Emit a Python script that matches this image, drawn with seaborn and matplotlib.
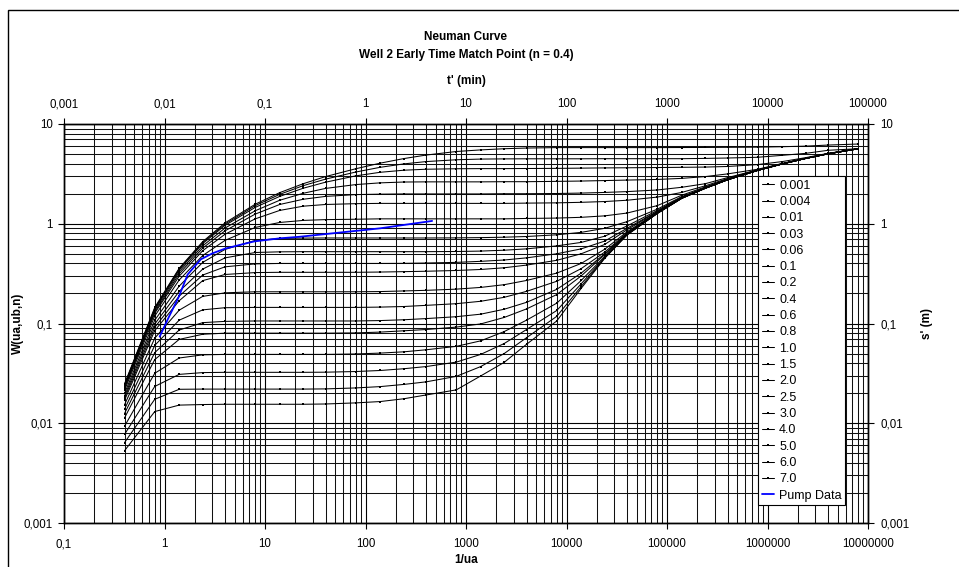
import numpy as np
import pandas as pd
import matplotlib
matplotlib.use("Agg")
import matplotlib.pyplot as plt
from matplotlib.lines import Line2D
from matplotlib.patches import Rectangle
from matplotlib.ticker import FixedLocator, FixedFormatter, LogLocator, NullFormatter
import seaborn as sns

sns.set_theme(style="white")
plt.rcParams["font.family"] = ["Liberation Sans", "DejaVu Sans"]

# ---------------- data ----------------
inv_ua = [0.4, 0.8, 1.4, 2.4, 4, 8, 14, 24, 40, 80, 140, 240, 400, 800, 1400, 2400,
          4000, 8000, 1.4e4, 2.4e4, 4e4, 8e4, 1.4e5, 2.4e5, 4e5, 8e5, 1.4e6, 2.4e6, 4e6, 8e6]

beta_labels = ["0.001", "0.004", "0.01", "0.03", "0.06", "0.1", "0.2", "0.4", "0.6", "0.8",
               "1.0", "1.5", "2.0", "2.5", "3.0", "4.0", "5.0", "6.0", "7.0"]

W_b0001 = [0.0248, 0.145, 0.358, 0.662, 1.02, 1.57, 2.05, 2.52, 2.97, 3.56, 4.05, 4.50, 4.88, 5.30, 5.50,
           5.65, 5.74, 5.80, 5.80, 5.80, 5.80, 5.80, 5.81, 5.82, 5.84, 5.86, 5.92, 6.00, 6.15, 6.30]
W_b0004 = [0.0243, 0.142, 0.352, 0.648, 0.992, 1.52, 1.97, 2.41, 2.80, 3.30, 3.68, 3.98, 4.20, 4.38, 4.45,
           4.47, 4.48, 4.48, 4.48, 4.49, 4.49, 4.49, 4.49, 4.52, 4.56, 4.64, 4.85, 5.08, 5.45, 5.65]
W_b001 = [0.0241, 0.140, 0.345, 0.633, 0.963, 1.46, 1.88, 2.27, 2.61, 3.02, 3.28, 3.44, 3.52, 3.56, 3.57,
          3.57, 3.58, 3.59, 3.61, 3.63, 3.64, 3.66, 3.68, 3.70, 3.75, 3.92, 4.20, 4.60, 5.08, 5.65]
W_b003 = [0.0235, 0.136, 0.331, 0.601, 0.905, 1.35, 1.72, 2.02, 2.26, 2.47, 2.57, 2.62, 2.63, 2.63, 2.63,
          2.64, 2.64, 2.66, 2.68, 2.71, 2.74, 2.78, 2.85, 2.97, 3.16, 3.52, 4.02, 4.54, 5.04, 5.65]
W_b006 = [0.0230, 0.131, 0.315, 0.570, 0.849, 1.25, 1.56, 1.76, 1.88, 1.96, 1.98, 1.99, 1.99, 1.99, 1.99,
          2.00, 2.00, 2.01, 2.03, 2.06, 2.10, 2.18, 2.32, 2.52, 2.90, 3.47, 4.00, 4.53, 5.04, 5.65]
W_b01 = [0.0224, 0.127, 0.298, 0.537, 0.784, 1.12, 1.36, 1.50, 1.56, 1.59, 1.60, 1.60, 1.60, 1.60, 1.60,
         1.60, 1.61, 1.62, 1.64, 1.67, 1.72, 1.85, 2.06, 2.40, 2.84, 3.46, 3.99, 4.53, 5.04, 5.65]
W_b02 = [0.0214, 0.119, 0.273, 0.480, 0.681, 0.918, 1.03, 1.08, 1.10, 1.11, 1.12, 1.12, 1.12, 1.12, 1.12,
         1.12, 1.13, 1.14, 1.16, 1.20, 1.28, 1.52, 1.93, 2.34, 2.80, 3.45, 3.99, 4.52, 5.03, 5.65]
W_b04 = [0.0199, 0.108, 0.237, 0.410, 0.553, 0.680, 0.712, 0.718, 0.720, 0.720, 0.720, 0.720, 0.720, 0.722,
         0.726, 0.733, 0.745, 0.775, 0.82, 0.90, 1.05, 1.40, 1.87, 2.30, 2.78, 3.44, 3.98, 4.52, 5.03, 5.65]
W_b06 = [0.0188, 0.0988, 0.210, 0.351, 0.455, 0.515, 0.523, 0.525, 0.525, 0.525, 0.525, 0.525, 0.525, 0.527,
         0.532, 0.543, 0.560, 0.600, 0.65, 0.75, 0.95, 1.36, 1.84, 2.29, 2.77, 3.44, 3.98, 4.52, 5.03, 5.65]
W_b08 = [0.0179, 0.0915, 0.188, 0.306, 0.370, 0.396, 0.400, 0.400, 0.400, 0.400, 0.400, 0.401, 0.404, 0.410,
         0.420, 0.433, 0.455, 0.50, 0.56, 0.67, 0.90, 1.33, 1.83, 2.28, 2.77, 3.43, 3.98, 4.52, 5.03, 5.65]
W_b10 = [0.0170, 0.0849, 0.169, 0.269, 0.310, 0.324, 0.326, 0.326, 0.326, 0.326, 0.328, 0.331, 0.334, 0.340,
         0.348, 0.362, 0.385, 0.43, 0.50, 0.62, 0.87, 1.32, 1.82, 2.28, 2.77, 3.43, 3.98, 4.52, 5.03, 5.65]
W_b15 = [0.0153, 0.0713, 0.136, 0.187, 0.203, 0.208, 0.208, 0.208, 0.208, 0.208, 0.209, 0.212, 0.215, 0.221,
         0.230, 0.245, 0.270, 0.32, 0.40, 0.555, 0.83, 1.30, 1.81, 2.27, 2.76, 3.43, 3.98, 4.52, 5.03, 5.65]
W_b20 = [0.0138, 0.0603, 0.108, 0.137, 0.144, 0.145, 0.145, 0.145, 0.145, 0.145, 0.146, 0.148, 0.152, 0.158,
         0.167, 0.183, 0.210, 0.265, 0.355, 0.52, 0.81, 1.29, 1.81, 2.27, 2.76, 3.43, 3.98, 4.52, 5.03, 5.65]
W_b25 = [0.0125, 0.0511, 0.086, 0.102, 0.105, 0.106, 0.106, 0.106, 0.106, 0.106, 0.107, 0.109, 0.112, 0.117,
         0.124, 0.139, 0.163, 0.22, 0.32, 0.50, 0.80, 1.28, 1.80, 2.27, 2.76, 3.43, 3.98, 4.52, 5.03, 5.65]
W_b30 = [0.0113, 0.0435, 0.0693, 0.078, 0.080, 0.080, 0.080, 0.080, 0.080, 0.0805, 0.082, 0.0845, 0.087, 0.092,
         0.099, 0.115, 0.140, 0.195, 0.30, 0.49, 0.79, 1.28, 1.80, 2.27, 2.76, 3.43, 3.98, 4.52, 5.03, 5.65]
W_b40 = [0.00933, 0.0317, 0.0451, 0.0485, 0.049, 0.049, 0.049, 0.049, 0.049, 0.0495, 0.0505, 0.052, 0.0545,
         0.059, 0.067, 0.083, 0.108, 0.16, 0.27, 0.47, 0.78, 1.27, 1.80, 2.27, 2.76, 3.43, 3.98, 4.52, 5.03, 5.65]
W_b50 = [0.00772, 0.0234, 0.0309, 0.0322, 0.0324, 0.0324, 0.0324, 0.0324, 0.0325, 0.033, 0.0338, 0.0352, 0.037,
         0.041, 0.049, 0.063, 0.087, 0.135, 0.25, 0.46, 0.78, 1.27, 1.80, 2.27, 2.76, 3.43, 3.98, 4.52, 5.03, 5.65]
W_b60 = [0.00639, 0.0174, 0.0219, 0.0220, 0.0220, 0.0220, 0.0220, 0.0220, 0.0221, 0.0226, 0.0233, 0.0245, 0.026,
         0.0295, 0.037, 0.050, 0.072, 0.118, 0.235, 0.455, 0.775, 1.27, 1.80, 2.27, 2.76, 3.43, 3.98, 4.52, 5.03, 5.65]
W_b70 = [0.0053, 0.0131, 0.0152, 0.0154, 0.0155, 0.0155, 0.0155, 0.0155, 0.0156, 0.0160, 0.0165, 0.0176, 0.0192,
         0.0216, 0.0298, 0.0408, 0.0618, 0.106, 0.225, 0.45, 0.77, 1.27, 1.80, 2.27, 2.76, 3.43, 3.98, 4.52, 5.03, 5.65]

curves = [W_b0001, W_b0004, W_b001, W_b003, W_b006, W_b01, W_b02, W_b04, W_b06, W_b08,
          W_b10, W_b15, W_b20, W_b25, W_b30, W_b40, W_b50, W_b60, W_b70]

# pump data (secondary axes: t' in minutes, s' in metres)
pump_t = [0.00895, 0.011, 0.0139, 0.017, 0.020, 0.023, 0.030, 0.040, 0.055, 0.078, 0.14, 0.22,
          0.40, 0.65, 1.0, 1.4, 2.5, 4.6]
pump_s = [0.0738, 0.115, 0.186, 0.310, 0.375, 0.440, 0.505, 0.563, 0.610, 0.665, 0.714, 0.740,
          0.788, 0.830, 0.868, 0.900, 0.978, 1.067]

bottom_ticks = [0.1, 1, 10, 100, 1e3, 1e4, 1e5, 1e6, 1e7]
bottom_labels = ["0,1", "1", "10", "100", "1000", "10000", "100000", "1000000", "10000000"]
top_ticks = [1e-3, 1e-2, 0.1, 1, 10, 100, 1e3, 1e4, 1e5]
top_labels = ["0,001", "0,01", "0,1", "1", "10", "100", "1000", "10000", "100000"]
y_ticks = [1e-3, 1e-2, 0.1, 1, 10]
y_labels = ["0,001", "0,01", "0,1", "1", "10"]

title1 = "Neuman Curve"
title2 = "Well 2 Early Time Match Point (n = 0.4)"

rows = []
for lab, vals in zip(beta_labels, curves):
    for xv, wv in zip(inv_ua, vals):
        rows.append((xv, wv, lab))
df = pd.DataFrame(rows, columns=["inv_ua", "W", "beta"])
pump_df = pd.DataFrame({"t": pump_t, "s": pump_s})

# ---------------- figure ----------------
W_PX, H_PX = 959, 567
fig = plt.figure(figsize=(W_PX / 100, H_PX / 100), dpi=100)
fig.patch.set_facecolor("white")

L, R, T, B = 64, 868, 124, 523
rect = [L / W_PX, 1 - B / H_PX, (R - L) / W_PX, (B - T) / H_PX]
ax = fig.add_axes(rect)
ax.set_xscale("log")
ax.set_yscale("log")
ax.set_xlim(0.1, 1e7)
ax.set_ylim(1e-3, 10)
ax.set_facecolor("white")
ax.set_axisbelow(True)

sns.lineplot(data=df, x="inv_ua", y="W", hue="beta", hue_order=beta_labels,
             palette=["black"] * len(beta_labels), estimator=None, sort=False,
             marker="s", markersize=1.9, markeredgewidth=0, linewidth=0.75,
             legend=False, ax=ax)

ax.xaxis.set_major_locator(FixedLocator(bottom_ticks))
ax.xaxis.set_major_formatter(FixedFormatter(bottom_labels))
ax.yaxis.set_major_locator(FixedLocator(y_ticks))
ax.yaxis.set_major_formatter(FixedFormatter(y_labels))
ax.xaxis.set_minor_locator(LogLocator(base=10, subs=np.arange(2, 10), numticks=50))
ax.yaxis.set_minor_locator(LogLocator(base=10, subs=np.arange(2, 10), numticks=50))
ax.xaxis.set_minor_formatter(NullFormatter())
ax.yaxis.set_minor_formatter(NullFormatter())
ax.grid(True, which="major", color="black", linewidth=0.8)
ax.grid(True, which="minor", color="#111111", linewidth=0.75)
ax.tick_params(which="major", bottom=True, left=True, direction="out", length=4,
               width=0.8, color="black", labelsize=8.3, labelcolor="black")
ax.tick_params(axis="x", which="major", pad=7)
ax.tick_params(axis="y", which="major", pad=4)
ax.tick_params(which="minor", length=0)
for sp in ax.spines.values():
    sp.set_color("black")
    sp.set_linewidth(1.0)
ax.set_xlabel("1/ua", fontsize=8.5, fontweight="bold", color="black")
ax.set_ylabel("W(ua,ub,n)", fontsize=8.5, fontweight="bold", color="black")
ax.xaxis.set_label_coords(0.5, -0.078)
ax.yaxis.set_label_coords(-0.050, 0.5)

# secondary axes (top/right) for pump data
ax2 = fig.add_axes(rect)
ax2.set_xscale("log")
ax2.set_yscale("log")
ax2.set_xlim(1e-3, 1e5)
ax2.set_ylim(1e-3, 10)
ax2.patch.set_visible(False)
sns.lineplot(data=pump_df, x="t", y="s", color="#0000FF", linewidth=1.3,
             estimator=None, sort=False, ax=ax2)
ax2.xaxis.tick_top()
ax2.yaxis.tick_right()
ax2.xaxis.set_label_position("top")
ax2.yaxis.set_label_position("right")
ax2.xaxis.set_major_locator(FixedLocator(top_ticks))
ax2.xaxis.set_major_formatter(FixedFormatter(top_labels))
ax2.yaxis.set_major_locator(FixedLocator(y_ticks))
ax2.yaxis.set_major_formatter(FixedFormatter(y_labels))
ax2.xaxis.set_minor_locator(FixedLocator([]))
ax2.yaxis.set_minor_locator(FixedLocator([]))
ax2.tick_params(which="major", top=True, right=True, bottom=False, left=False,
                direction="out", length=4, width=0.8, color="black",
                labelsize=8.3, labelcolor="black")
ax2.tick_params(axis="x", which="major", pad=6)
ax2.tick_params(axis="y", which="major", pad=5)
ax2.grid(False)
for sp in ax2.spines.values():
    sp.set_color("black")
    sp.set_linewidth(1.0)
ax2.set_xlabel("t' (min)", fontsize=8.5, fontweight="bold", color="black")
ax2.set_ylabel("s' (m)", fontsize=8.5, fontweight="bold", color="black", rotation=90)
ax2.xaxis.set_label_coords(0.5, 1.10)
ax2.yaxis.set_label_coords(1.066, 0.5)

# legend
handles = [Line2D([0], [0], color="black", lw=0.75, marker="s", markersize=1.9,
                  markeredgewidth=0) for _ in beta_labels]
handles.append(Line2D([0], [0], color="#0000FF", lw=1.3))
labels = beta_labels + ["Pump Data"]
leg = ax2.legend(handles, labels, loc="upper left", bbox_to_anchor=(0.863, 0.870),
                 frameon=True, fancybox=False, framealpha=1, edgecolor="black",
                 facecolor="white", fontsize=9, handlelength=1.0, handletextpad=0.4,
                 labelspacing=0.345, borderpad=0.3, borderaxespad=0)
leg.get_frame().set_linewidth(0.8)
for t in leg.get_texts():
    t.set_color("black")

# titles
cx = (L + R) / 2 / W_PX
fig.text(cx, 1 - 37 / H_PX, title1, ha="center", va="center", fontsize=8.5,
         fontweight="bold", color="black")
fig.text(cx, 1 - 55 / H_PX, title2, ha="center", va="center", fontsize=8.5,
         fontweight="bold", color="black")

# outer chart frame
fig.patches.append(Rectangle((8 / W_PX, -0.05), 1.2, 1.05 - 10 / H_PX, fill=False,
                             edgecolor="black", linewidth=1.0, transform=fig.transFigure,
                             figure=fig))

fig.savefig("out.png", dpi=100, facecolor="white")
